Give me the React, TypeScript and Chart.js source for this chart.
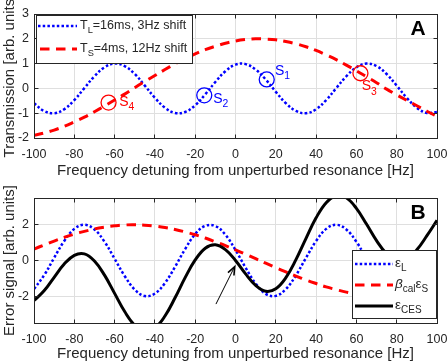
import React, { useEffect, useRef } from 'react';
import { Chart, registerables } from 'chart.js';

Chart.register(...registerables);

// ---------- data ----------
const freq = [-100, -95, -90, -85, -80, -75, -70, -65, -60, -55, -50, -45, -40, -35, -30, -25, -20, -15, -10, -5, 0, 5, 10, 15, 20, 25, 30, 35, 40, 45, 50, 55, 60, 65, 70, 75, 80, 85, 90, 95, 100];

const transLong = [-0.60, -0.91, -1.00, -0.84, -0.47, 0.01, 0.49, 0.85, 1.00, 0.90, 0.58, 0.11, -0.38, -0.78, -0.99, -0.95, -0.68, -0.24, 0.26, 0.69, 0.96, 0.98, 0.76, 0.36, -0.14, -0.60, -0.91, -1.00, -0.84, -0.47, 0.01, 0.49, 0.85, 1.00, 0.90, 0.58, 0.11, -0.38, -0.78, -0.99, -0.95];
const transShort = [-1.89, -1.80, -1.68, -1.53, -1.35, -1.16, -0.94, -0.71, -0.47, -0.23, 0.03, 0.28, 0.52, 0.76, 0.99, 1.20, 1.39, 1.56, 1.70, 1.82, 1.91, 1.97, 2.00, 1.99, 1.96, 1.89, 1.80, 1.68, 1.53, 1.35, 1.16, 0.94, 0.71, 0.47, 0.23, -0.03, -0.26, -0.48, -0.70, -0.92, -1.12];

const errLong = [-1.60, -0.83, 0.15, 1.09, 1.77, 2.00, 1.74, 1.05, 0.10, -0.87, -1.63, -1.99, -1.85, -1.26, -0.35, 0.64, 1.48, 1.94, 1.93, 1.44, 0.59, -0.40, -1.29, -1.87, -1.98, -1.60, -0.83, 0.15, 1.09, 1.77, 2.00, 1.74, 1.05, 0.10, -0.87, -1.63, -1.99, -1.85, -1.26, -0.35, 0.60];
const errShortCal = [0.64, 0.87, 1.09, 1.29, 1.48, 1.63, 1.77, 1.87, 1.94, 1.99, 2.00, 1.98, 1.93, 1.85, 1.74, 1.60, 1.44, 1.26, 1.05, 0.83, 0.59, 0.35, 0.10, -0.15, -0.40, -0.64, -0.87, -1.09, -1.29, -1.48, -1.63, -1.77, -1.87, -1.94, -1.99, -2.00, -1.98, -1.93, -1.85, -1.74, -1.60];
const errCES = [-2.24, -1.70, -0.94, -0.20, 0.29, 0.37, -0.03, -0.82, -1.84, -2.86, -3.63, -3.97, -3.78, -3.11, -2.09, -0.96, 0.03, 0.69, 0.88, 0.61, 0.00, -0.75, -1.39, -1.72, -1.58, -0.96, 0.05, 1.24, 2.39, 3.24, 3.63, 3.51, 2.92, 2.04, 1.11, 0.37, -0.01, 0.08, 0.60, 1.39, 2.25];

const markerFreq = [15.5, -15.5, 62, -63];
const markerValue = [0.36, -0.28, 0.61, -0.57];
const markerLabels = ['1', '2', '3', '4'];

const arrowFrom = [-9.7, -2.44];
const arrowTo = [-0.4, -0.34];

const xTicks = [-100, -80, -60, -40, -20, 0, 20, 40, 60, 80, 100];
const yTicksA = [-2, -1, 0, 1, 2, 3];
const yTicksB = [-2, 0, 2];

// ---------- styles ----------
const FONT = '"Liberation Sans", Arial, Helvetica, sans-serif';
const AXIS = '#262626';
const GRID = '#dfdfdf';
const BLUE = '#0000ff';
const RED = '#ff0000';
const BLACK = '#000000';
const DOT = [2.5, 2.2];
const DASH = [9.5, 6.5];
const markerColors = [BLUE, BLUE, RED, RED];
const markerLabelOffsets = [[8.3, -8.5], [9, 3.7], [1.3, 13.3], [10.7, -0.3]];

type Part = { text: string; sub?: boolean; italic?: boolean };

function drawRich(ctx: CanvasRenderingContext2D, x: number, y: number, parts: Part[], size: number, color: string) {
  let cx = x;
  ctx.fillStyle = color;
  ctx.textAlign = 'left';
  ctx.textBaseline = 'middle';
  for (const p of parts) {
    const fs = p.sub ? size * 0.74 : size;
    ctx.font = `${p.italic ? 'italic ' : ''}${fs}px ${FONT}`;
    ctx.fillText(p.text, cx, y + (p.sub ? size * 0.38 : 0));
    cx += ctx.measureText(p.text).width;
  }
}

function drawSample(ctx: CanvasRenderingContext2D, x1: number, x2: number, y: number, color: string, width: number, dash: number[]) {
  ctx.save();
  ctx.beginPath();
  ctx.setLineDash(dash);
  ctx.lineCap = 'butt';
  ctx.strokeStyle = color;
  ctx.lineWidth = width;
  ctx.moveTo(x1, y);
  ctx.lineTo(x2, y);
  ctx.stroke();
  ctx.restore();
}

const al = (v: number) => Math.round(v + 0.5) - 0.5;

function drawFrame(chart: any, yTicks: number[]) {
  const { ctx, chartArea: ca, scales } = chart;
  ctx.save();
  ctx.strokeStyle = AXIS;
  ctx.lineWidth = 1;
  ctx.setLineDash([]);
  const L = al(ca.left), R = al(ca.right), T = al(ca.top), B = al(ca.bottom);
  const tl = 4;
  ctx.beginPath();
  for (const v of xTicks) {
    const px = al(scales.x.getPixelForValue(v));
    ctx.moveTo(px, B); ctx.lineTo(px, B - tl);
    ctx.moveTo(px, T); ctx.lineTo(px, T + tl);
  }
  for (const v of yTicks) {
    const py = al(scales.y.getPixelForValue(v));
    ctx.moveTo(L, py); ctx.lineTo(L + tl, py);
    ctx.moveTo(R, py); ctx.lineTo(R - tl, py);
  }
  ctx.stroke();
  ctx.strokeRect(L, T, R - L, B - T);
  ctx.restore();
}

function drawPanelLetter(ctx: CanvasRenderingContext2D, ca: any, letter: string) {
  ctx.save();
  ctx.fillStyle = BLACK;
  ctx.font = `bold 21px ${FONT}`;
  ctx.textAlign = 'center';
  ctx.textBaseline = 'middle';
  ctx.fillText(letter, ca.right - 19, ca.top + 15);
  ctx.restore();
}

const panelAPlugin = {
  id: 'panelA',
  afterDatasetsDraw(chart: any) {
    const { ctx, chartArea: ca, scales } = chart;
    drawFrame(chart, yTicksA);
    ctx.save();
    // marker labels
    markerFreq.forEach((f, i) => {
      const px = scales.x.getPixelForValue(f);
      const py = scales.y.getPixelForValue(markerValue[i]);
      const [dx, dy] = markerLabelOffsets[i];
      drawRich(ctx, px + dx, py + dy, [{ text: 'S' }, { text: markerLabels[i], sub: true }], 14, markerColors[i]);
    });
    // legend
    const lx = ca.left + 2, ly = ca.top + 1, lw = 156, lh = 48;
    ctx.fillStyle = '#ffffff';
    ctx.fillRect(lx, ly, lw, lh);
    ctx.strokeStyle = AXIS;
    ctx.lineWidth = 1;
    ctx.strokeRect(al(lx), al(ly), lw, lh);
    drawSample(ctx, lx + 2, lx + 41, ly + 11, BLUE, 2.5, DOT);
    drawSample(ctx, lx + 4, lx + 41, ly + 34, RED, 3, DASH);
    drawRich(ctx, lx + 44, ly + 11, [{ text: 'T' }, { text: 'L', sub: true }, { text: '=16ms, 3Hz shift' }], 12.5, AXIS);
    drawRich(ctx, lx + 44, ly + 34, [{ text: 'T' }, { text: 'S', sub: true }, { text: '=4ms, 12Hz shift' }], 12.5, AXIS);
    drawPanelLetter(ctx, ca, 'A');
    ctx.restore();
  },
};

const panelBPlugin = {
  id: 'panelB',
  afterDatasetsDraw(chart: any) {
    const { ctx, chartArea: ca, scales } = chart;
    drawFrame(chart, yTicksB);
    ctx.save();
    // arrow
    const x1 = scales.x.getPixelForValue(arrowFrom[0]);
    const y1 = scales.y.getPixelForValue(arrowFrom[1]);
    const x2 = scales.x.getPixelForValue(arrowTo[0]);
    const y2 = scales.y.getPixelForValue(arrowTo[1]);
    const ang = Math.atan2(y2 - y1, x2 - x1);
    ctx.strokeStyle = BLACK;
    ctx.lineWidth = 1;
    ctx.beginPath();
    ctx.moveTo(x1, y1);
    ctx.lineTo(x2, y2);
    ctx.stroke();
    ctx.lineWidth = 1.6;
    ctx.beginPath();
    const hl = 9, ha = 0.38;
    ctx.moveTo(x2 - hl * Math.cos(ang - ha), y2 - hl * Math.sin(ang - ha));
    ctx.lineTo(x2, y2);
    ctx.lineTo(x2 - hl * Math.cos(ang + ha), y2 - hl * Math.sin(ang + ha));
    ctx.stroke();
    // legend
    const lw = 84, lh = 68;
    const lx = ca.right - lw - 1, ly = ca.bottom - lh - 5;
    ctx.fillStyle = '#ffffff';
    ctx.fillRect(lx, ly, lw, lh);
    ctx.strokeStyle = AXIS;
    ctx.lineWidth = 1;
    ctx.strokeRect(al(lx), al(ly), lw, lh);
    drawSample(ctx, lx + 3, lx + 41, ly + 14, BLUE, 2.5, DOT);
    drawSample(ctx, lx + 3, lx + 41, ly + 35, RED, 3, DASH);
    drawSample(ctx, lx + 3, lx + 41, ly + 56, BLACK, 3, []);
    drawRich(ctx, lx + 43, ly + 13, [{ text: 'ε' }, { text: 'L', sub: true }], 13.5, AXIS);
    drawRich(ctx, lx + 43, ly + 34, [{ text: 'β', italic: true }, { text: 'cal', sub: true }, { text: 'ε' }, { text: 'S', sub: true }], 13.5, AXIS);
    drawRich(ctx, lx + 43, ly + 55, [{ text: 'ε' }, { text: 'CES', sub: true }], 13.5, AXIS);
    drawPanelLetter(ctx, ca, 'B');
    ctx.restore();
  },
};

function makeOptions(yMin: number, yMax: number, yTicks: number[], yTitle: string, padTop: number, xHeight: number): any {
  return {
    responsive: false,
    animation: false,
    devicePixelRatio: 1,
    layout: { padding: { top: padTop, right: 10, left: 0, bottom: 0 } },
    plugins: { legend: { display: false }, tooltip: { enabled: false } },
    elements: {
      point: { radius: 0 },
      line: { capBezierPoints: false, tension: 0.4 },
    },
    scales: {
      x: {
        type: 'linear',
        min: -100,
        max: 100,
        afterBuildTicks: (s: any) => { s.ticks = xTicks.map((v) => ({ value: v })); },
        afterFit: (s: any) => { s.height = xHeight; s.paddingLeft = 0; s.paddingRight = 0; },
        grid: { color: GRID, drawTicks: false, lineWidth: 1 },
        border: { display: false },
        ticks: { color: AXIS, font: { family: FONT, size: 12.5 }, padding: 9, maxRotation: 0, autoSkip: false },
        title: {
          display: true,
          text: 'Frequency detuning from unperturbed resonance [Hz]',
          color: AXIS,
          font: { family: FONT, size: 15 },
          padding: { top: 0, bottom: 0 },
        },
      },
      y: {
        type: 'linear',
        min: yMin,
        max: yMax,
        afterBuildTicks: (s: any) => { s.ticks = yTicks.map((v) => ({ value: v })); },
        afterFit: (s: any) => { s.width = 34; s.paddingTop = 0; s.paddingBottom = 0; },
        grid: { color: GRID, drawTicks: false, lineWidth: 1 },
        border: { display: false },
        ticks: { color: AXIS, font: { family: FONT, size: 12.5 }, padding: 5 },
        title: {
          display: true,
          text: yTitle,
          color: AXIS,
          font: { family: FONT, size: 15 },
          padding: { top: 1, bottom: 0 },
        },
      },
    },
  };
}

const pts = (ys: number[]) => freq.map((f, i) => ({ x: f, y: ys[i] }));

export default function App() {
  const topRef = useRef<HTMLCanvasElement>(null);
  const botRef = useRef<HTMLCanvasElement>(null);

  useEffect(() => {
    const top = new Chart(topRef.current as HTMLCanvasElement, {
      type: 'line',
      data: {
        datasets: [
          {
            data: markerFreq.map((f, i) => ({ x: f, y: markerValue[i] })),
            showLine: false,
            pointRadius: 7.5,
            pointBorderWidth: 1.3,
            pointBorderColor: markerColors,
            pointBackgroundColor: 'rgba(0,0,0,0)',
            clip: 0,
          } as any,
          {
            data: pts(transShort),
            borderColor: RED,
            borderWidth: 3,
            borderDash: DASH,
            fill: false,
            clip: 0,
          },
          {
            data: pts(transLong),
            borderColor: BLUE,
            borderWidth: 2.5,
            borderDash: DOT,
            fill: false,
            clip: 0,
          },
        ],
      },
      options: makeOptions(-2, 3, yTicksA, 'Transmission [arb. units]', 14, 42),
      plugins: [panelAPlugin],
    });

    const bot = new Chart(botRef.current as HTMLCanvasElement, {
      type: 'line',
      data: {
        datasets: [
          {
            data: pts(errCES),
            borderColor: BLACK,
            borderWidth: 3,
            fill: false,
            clip: 0,
          },
          {
            data: pts(errShortCal),
            borderColor: RED,
            borderWidth: 3,
            borderDash: DASH,
            fill: false,
            clip: 0,
          },
          {
            data: pts(errLong),
            borderColor: BLUE,
            borderWidth: 2.5,
            borderDash: DOT,
            fill: false,
            clip: 0,
          },
        ],
      },
      options: makeOptions(-3.5, 3.5, yTicksB, 'Error signal [arb. units]', 18, 40),
      plugins: [panelBPlugin],
    });

    return () => {
      top.destroy();
      bot.destroy();
    };
  }, []);

  return (
    <div style={{ position: 'fixed', left: 0, top: 0, width: 447, height: 363, background: '#ffffff' }}>
      <canvas ref={topRef} width={447} height={180} style={{ display: 'block', width: 447, height: 180 }} />
      <canvas ref={botRef} width={447} height={183} style={{ display: 'block', width: 447, height: 183 }} />
    </div>
  );
}
